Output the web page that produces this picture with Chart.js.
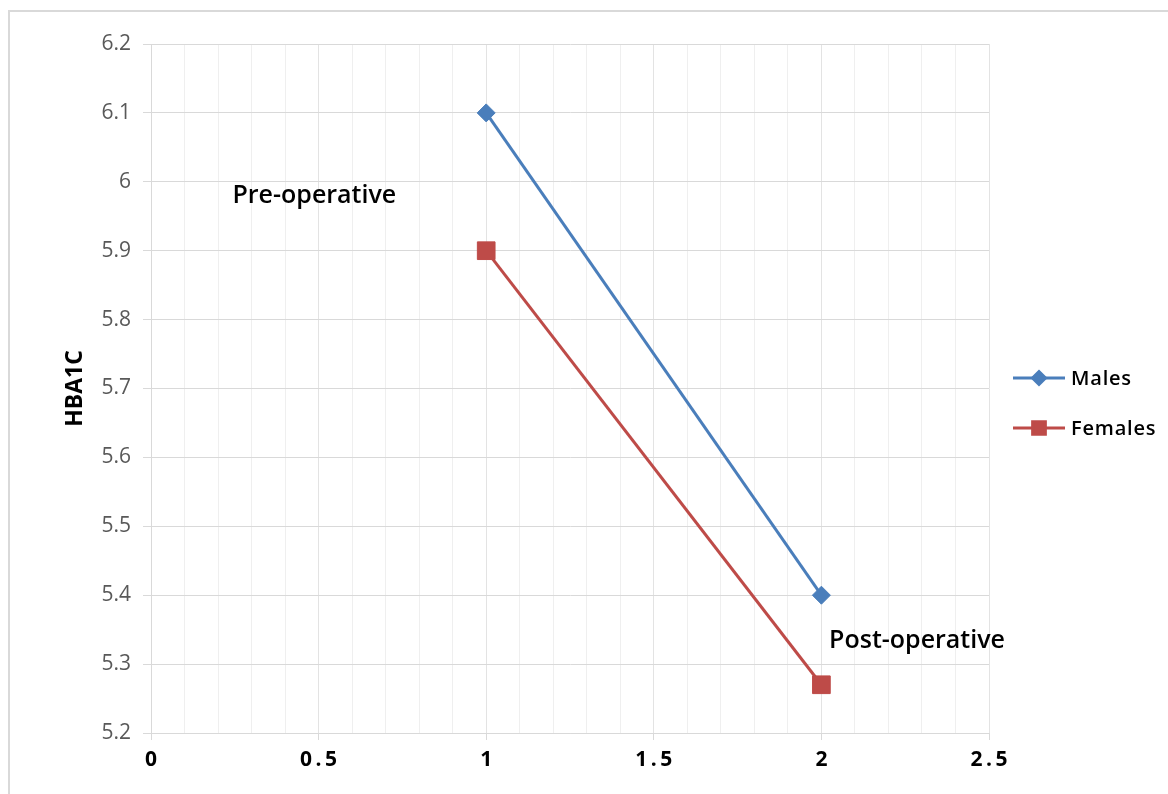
<!DOCTYPE html>
<html>
<head>
<meta charset="utf-8">
<title>HBA1C</title>
<script src="https://cdn.jsdelivr.net/npm/chart.js@4/dist/chart.umd.min.js"></script>
<style>
  html, body { margin: 0; padding: 0; background: #fff; }
  canvas { display: block; }
</style>
</head>
<body>
<canvas id="c" width="1168" height="794"></canvas>
<script>
// Measurement time points and mean HBA1C per group
const timepoints = [1, 2];
const males = [6.1, 5.4];
const females = [5.9, 5.27];
const seriesNames = ['Males', 'Females'];
const phaseLabels = ['Pre-operative', 'Post-operative'];

// Axis ranges
const xRange = { min: 0, max: 2.5, step: 0.1, major: 0.5 };
const yRange = { min: 5.2, max: 6.2, step: 0.1 };

const FONT = '"Open Sans", Lato, sans-serif';
const BLUE = '#4A7EBB';
const RED = '#BE4B48';

function isMajor(v) {
  const k = v / xRange.major;
  return Math.abs(k - Math.round(k)) < 1e-6;
}
function spaced(s) {
  return s.split('').join('\u2009');
}

// White page with a light frame
const framePlugin = {
  id: 'frame',
  beforeDraw(chart) {
    const ctx = chart.ctx;
    ctx.save();
    ctx.fillStyle = '#fff';
    ctx.fillRect(0, 0, chart.width, chart.height);
    ctx.strokeStyle = '#d9d9d9';
    ctx.lineWidth = 2;
    ctx.strokeRect(9, 11, chart.width + 20, chart.height + 20);
    ctx.restore();
  }
};

// Phase captions placed in data coordinates
const phasePlugin = {
  id: 'phases',
  afterDatasetsDraw(chart, args, opts) {
    const ctx = chart.ctx;
    const xs = chart.scales.x, ys = chart.scales.y;
    ctx.save();
    ctx.font = '600 25px ' + FONT;
    ctx.fillStyle = '#000';
    ctx.textBaseline = 'middle';
    ctx.textAlign = 'left';
    opts.anchors.forEach((a, i) => {
      ctx.fillText(phaseLabels[i], xs.getPixelForValue(a.x), ys.getPixelForValue(a.y));
    });
    ctx.restore();
  }
};

// Legend on the right: line sample with marker, then the name
const sideLegend = {
  id: 'sideLegend',
  afterDraw(chart, args, opts) {
    const ctx = chart.ctx;
    ctx.save();
    chart.data.datasets.forEach((ds, i) => {
      const y = opts.top + i * opts.gap;
      const x0 = opts.left, x1 = opts.left + opts.lineLen;
      ctx.strokeStyle = ds.borderColor;
      ctx.lineWidth = 3;
      ctx.beginPath();
      ctx.moveTo(x0, y);
      ctx.lineTo(x1, y);
      ctx.stroke();
      ctx.fillStyle = ds.pointBackgroundColor;
      ctx.strokeStyle = ds.pointBorderColor;
      Chart.helpers.drawPoint(ctx, {
        pointStyle: ds.pointStyle,
        radius: ds.pointStyle === 'rect' ? 9 : 6.5,
        rotation: 0,
        borderWidth: 1
      }, (x0 + x1) / 2, y);
      ctx.fillStyle = '#000';
      ctx.font = '600 20px ' + FONT;
      if ('letterSpacing' in ctx) ctx.letterSpacing = '0.8px';
      ctx.textBaseline = 'middle';
      ctx.textAlign = 'left';
      ctx.fillText(ds.label, x1 + 6, y + 1);
    });
    ctx.restore();
  }
};

new Chart(document.getElementById('c'), {
  type: 'line',
  data: {
    datasets: [
      {
        label: seriesNames[0],
        data: timepoints.map((t, i) => ({ x: t, y: males[i] })),
        borderColor: BLUE,
        backgroundColor: BLUE,
        pointBackgroundColor: BLUE,
        pointBorderColor: BLUE,
        borderWidth: 3,
        pointStyle: 'rectRot',
        pointRadius: 9,
        pointBorderWidth: 1,
        tension: 0
      },
      {
        label: seriesNames[1],
        data: timepoints.map((t, i) => ({ x: t, y: females[i] })),
        borderColor: RED,
        backgroundColor: RED,
        pointBackgroundColor: RED,
        pointBorderColor: RED,
        borderWidth: 3,
        pointStyle: 'rect',
        pointRadius: 12.5,
        pointBorderWidth: 1,
        tension: 0
      }
    ]
  },
  options: {
    responsive: false,
    animation: false,
    layout: { padding: { left: 10, top: 44, right: 179, bottom: 0 } },
    plugins: {
      legend: { display: false },
      tooltip: { enabled: false },
      phases: { anchors: [{ x: 0.243, y: 5.979 }, { x: 2.023, y: 5.333 }] },
      sideLegend: { left: 1013, top: 378, gap: 50, lineLen: 52 }
    },
    scales: {
      x: {
        type: 'linear',
        min: xRange.min,
        max: xRange.max,
        afterFit(axis) { axis.height = 61; },
        border: { display: true, color: '#d9d9d9', width: 1 },
        grid: {
          color: c => (c.tick && isMajor(c.tick.value)) ? '#e3e3e3' : '#efefef',
          tickColor: c => (c.tick && isMajor(c.tick.value)) ? '#d9d9d9' : 'rgba(0,0,0,0)',
          tickLength: 7,
          lineWidth: 1
        },
        ticks: {
          stepSize: xRange.step,
          autoSkip: false,
          maxRotation: 0,
          padding: 7,
          color: '#000',
          font: { family: FONT, size: 21, weight: 'bold' },
          callback: v => isMajor(v) ? spaced(String(Number(v.toFixed(1)))) : ''
        }
      },
      y: {
        type: 'linear',
        min: yRange.min,
        max: yRange.max,
        afterFit(axis) { axis.width = 141; },
        border: { display: true, color: '#d9d9d9', width: 1 },
        grid: { color: '#d9d9d9', tickColor: '#d9d9d9', tickLength: 8, lineWidth: 1 },
        title: {
          display: true,
          text: 'HBA1C',
          color: '#000',
          font: { family: FONT, size: 23, weight: 'bold' },
          padding: { top: 52, bottom: 0 }
        },
        ticks: {
          stepSize: yRange.step,
          padding: 12,
          color: '#595959',
          font: { family: FONT, size: 21 },
          callback: v => String(Number(v.toFixed(1)))
        }
      }
    }
  },
  plugins: [framePlugin, phasePlugin, sideLegend]
});
</script>
</body>
</html>
